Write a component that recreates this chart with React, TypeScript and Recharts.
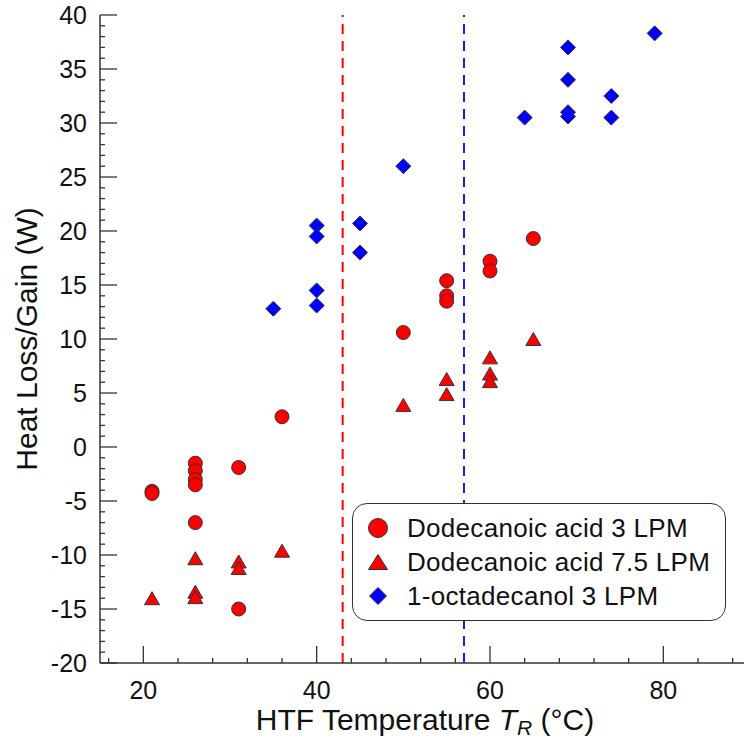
import React from "react";
import { ScatterChart, Scatter, XAxis, YAxis, ReferenceLine, Legend } from "recharts";

// Dodecanoic acid, 3 LPM (circles)
const acid3Temp = [21, 21, 26, 26, 26, 26, 26, 31, 31, 36, 50, 55, 55, 55, 60, 60, 65];
const acid3Heat = [-4.1, -4.3, -1.5, -2.2, -3.0, -3.5, -7.0, -1.9, -15.0, 2.8, 10.6, 15.4, 14.0, 13.5, 17.2, 16.3, 19.3];

// Dodecanoic acid, 7.5 LPM (triangles)
const acid75Temp = [21, 26, 26, 26, 31, 31, 36, 50, 55, 55, 60, 60, 60, 65];
const acid75Heat = [-14.0, -10.3, -13.4, -13.9, -10.6, -11.2, -9.6, 3.9, 6.3, 4.9, 8.3, 6.8, 6.1, 10.0];

// 1-octadecanol, 3 LPM (diamonds)
const octaTemp = [35, 40, 40, 40, 40, 45, 45, 50, 64, 69, 69, 69, 69, 74, 74, 79];
const octaHeat = [12.8, 20.5, 19.5, 14.5, 13.1, 20.7, 18.0, 26.0, 30.5, 37.0, 34.0, 31.0, 30.6, 32.5, 30.5, 38.3];

const seriesNames = ["Dodecanoic acid 3 LPM", "Dodecanoic acid 7.5 LPM", "1-octadecanol 3 LPM"];

// melting points marked with dashed lines
const acidMelt = 43;
const octaMelt = 57;

const xDomain = [15, 90];
const yDomain = [-20, 40];
const xMajorTicks = [20, 40, 60, 80];
const yMajorTicks = [-20, -15, -10, -5, 0, 5, 10, 15, 20, 25, 30, 35, 40];
const xMinorStep = 4;
const yMinorStep = 1;

const range = (from: number, to: number, step: number) => {
  const out: number[] = [];
  for (let v = from; v <= to + 1e-9; v += step) out.push(v);
  return out;
};
const xTicks = range(16, 88, xMinorStep);
const yTicks = range(-20, 40, yMinorStep);

const toPoints = (t: number[], q: number[]) => t.map((x, i) => ({ t: x, q: q[i] }));

const FONT = '"Liberation Sans", Arial, Helvetica, sans-serif';
const AXIS = "#333";
const RED = "#ff0000";
const BLUE = "#0000ff";
const OUTLINE = "#333";

const MAJOR = 17;
const MINOR = 5;

const CircleMark = ({ cx, cy, r = 7 }: any) => (
  <circle cx={cx} cy={cy} r={r} fill={RED} stroke={OUTLINE} strokeWidth={1} />
);
const TriangleMark = ({ cx, cy, w = 7.5, h = 6.5 }: any) => (
  <polygon
    points={`${cx},${cy - h} ${cx + w},${cy + h} ${cx - w},${cy + h}`}
    fill={RED}
    stroke={OUTLINE}
    strokeWidth={1}
  />
);
const DiamondMark = ({ cx, cy, s = 7.5 }: any) => (
  <polygon
    points={`${cx},${cy - s} ${cx + s},${cy} ${cx},${cy + s} ${cx - s},${cy}`}
    fill={BLUE}
    stroke={OUTLINE}
    strokeWidth={1}
  />
);

const BottomTick = ({ x, y, payload }: any) => {
  const major = xMajorTicks.includes(payload.value);
  return (
    <g>
      <line x1={x} x2={x} y1={y} y2={y - (major ? MAJOR : MINOR)} stroke={AXIS} strokeWidth={1.3} />
      {major && (
        <text x={x} y={y + 36} textAnchor="middle" fontSize={25} fontFamily={FONT} fill="#111">
          {payload.value}
        </text>
      )}
    </g>
  );
};

const TopTick = ({ x, y, payload }: any) => {
  const major = xMajorTicks.includes(payload.value);
  return <line x1={x} x2={x} y1={y} y2={y + (major ? MAJOR : MINOR)} stroke={AXIS} strokeWidth={1.3} />;
};

const LeftTick = ({ x, y, payload }: any) => {
  const major = yMajorTicks.includes(payload.value);
  return (
    <g>
      <line x1={x} x2={x + (major ? MAJOR : MINOR)} y1={y} y2={y} stroke={AXIS} strokeWidth={1.3} />
      {major && (
        <text x={x - 13} y={y} dy="0.36em" textAnchor="end" fontSize={25} fontFamily={FONT} fill="#111">
          {payload.value}
        </text>
      )}
    </g>
  );
};

const RightTick = ({ x, y, payload }: any) => {
  const major = yMajorTicks.includes(payload.value);
  return <line x1={x} x2={x - (major ? MAJOR : MINOR)} y1={y} y2={y} stroke={AXIS} strokeWidth={1.3} />;
};

const XTitle = ({ viewBox }: any) => {
  const cx = viewBox.x + viewBox.width / 2;
  const y = viewBox.y + 67;
  return (
    <text x={cx} y={y} textAnchor="middle" fontSize={30} fontFamily={FONT} fill="#111">
      {"HTF Temperature "}
      <tspan fontStyle="italic">T</tspan>
      <tspan fontStyle="italic" fontSize={21} dy={5}>R</tspan>
      <tspan dy={-5}>{" (°C)"}</tspan>
    </text>
  );
};

const YTitle = ({ viewBox }: any) => {
  const x = viewBox.x - 3;
  const cy = viewBox.y + viewBox.height / 2;
  return (
    <text
      x={x}
      y={cy}
      textAnchor="middle"
      fontSize={30}
      fontFamily={FONT}
      fill="#111"
      transform={`rotate(-90, ${x}, ${cy})`}
    >
      Heat Loss/Gain (W)
    </text>
  );
};

const LegendIcon = ({ type }: { type: string }) => {
  if (type === "triangle") return <TriangleMark cx={25} cy={17} w={9.5} h={7.5} />;
  if (type === "diamond") return <DiamondMark cx={25} cy={17} s={8.5} />;
  return <CircleMark cx={25} cy={17} r={9.5} />;
};

const renderLegend = ({ payload }: any) => {
  const items = [...(payload || [])].sort(
    (a: any, b: any) => seriesNames.indexOf(a.value) - seriesNames.indexOf(b.value)
  );
  return (
    <div
      style={{
        boxSizing: "border-box",
        width: 374,
        height: 118,
        border: "1.5px solid #333",
        borderRadius: 15,
        background: "#fff",
        paddingTop: 7,
      }}
    >
      {items.map((entry: any) => (
        <div key={entry.value} style={{ display: "flex", alignItems: "center", height: 34 }}>
          <svg width={54} height={34} style={{ flex: "none" }}>
            <LegendIcon type={entry.type} />
          </svg>
          <span
            style={{
              fontFamily: FONT,
              fontSize: 26,
              letterSpacing: 0.3,
              lineHeight: "34px",
              color: "#111",
              whiteSpace: "nowrap",
            }}
          >
            {entry.value}
          </span>
        </div>
      ))}
    </div>
  );
};

export default function App() {
  return (
    <div
      style={{
        position: "fixed",
        left: 0,
        top: 0,
        width: 744,
        height: 741,
        overflow: "hidden",
        background: "#fff",
      }}
    >
      <ScatterChart
        width={760}
        height={741}
        margin={{ top: 15, right: 10, left: 40, bottom: 18 }}
        style={{ fontFamily: FONT }}
      >
        <XAxis
          type="number"
          dataKey="t"
          domain={xDomain}
          ticks={xTicks}
          interval={0}
          tickSize={0}
          tickMargin={0}
          tickLine={false}
          tick={BottomTick}
          axisLine={{ stroke: AXIS, strokeWidth: 1.5 }}
          height={60}
          label={XTitle}
          allowDataOverflow
        />
        <XAxis
          xAxisId="top"
          orientation="top"
          type="number"
          dataKey="t"
          domain={xDomain}
          ticks={xTicks}
          interval={0}
          tickSize={0}
          tickMargin={0}
          tickLine={false}
          tick={TopTick}
          axisLine={{ stroke: AXIS, strokeWidth: 1.5 }}
          height={0}
          allowDataOverflow
        />
        <YAxis
          type="number"
          dataKey="q"
          domain={yDomain}
          ticks={yTicks}
          interval={0}
          tickSize={0}
          tickMargin={0}
          tickLine={false}
          tick={LeftTick}
          axisLine={{ stroke: AXIS, strokeWidth: 1.5 }}
          width={60}
          label={YTitle}
          allowDataOverflow
        />
        <YAxis
          yAxisId="right"
          orientation="right"
          type="number"
          dataKey="q"
          domain={yDomain}
          ticks={yTicks}
          interval={0}
          tickSize={0}
          tickMargin={0}
          tickLine={false}
          tick={RightTick}
          axisLine={{ stroke: AXIS, strokeWidth: 1.5 }}
          width={0}
          allowDataOverflow
        />
        <ReferenceLine x={acidMelt} stroke={RED} strokeWidth={2} strokeDasharray="10 7" />
        <ReferenceLine x={octaMelt} stroke={BLUE} strokeWidth={1.8} strokeDasharray="10 7" />
        <Scatter
          name={seriesNames[0]}
          data={toPoints(acid3Temp, acid3Heat)}
          fill={RED}
          legendType="circle"
          shape={CircleMark}
          isAnimationActive={false}
        />
        <Scatter
          name={seriesNames[1]}
          data={toPoints(acid75Temp, acid75Heat)}
          fill={RED}
          legendType="triangle"
          shape={TriangleMark}
          isAnimationActive={false}
        />
        <Scatter
          name={seriesNames[2]}
          data={toPoints(octaTemp, octaHeat)}
          fill={BLUE}
          legendType="diamond"
          shape={DiamondMark}
          isAnimationActive={false}
        />
        <Legend
          layout="vertical"
          align="center"
          verticalAlign="middle"
          content={renderLegend}
          wrapperStyle={{ left: 352, top: 503, width: 374, height: 118 }}
        />
      </ScatterChart>
    </div>
  );
}
